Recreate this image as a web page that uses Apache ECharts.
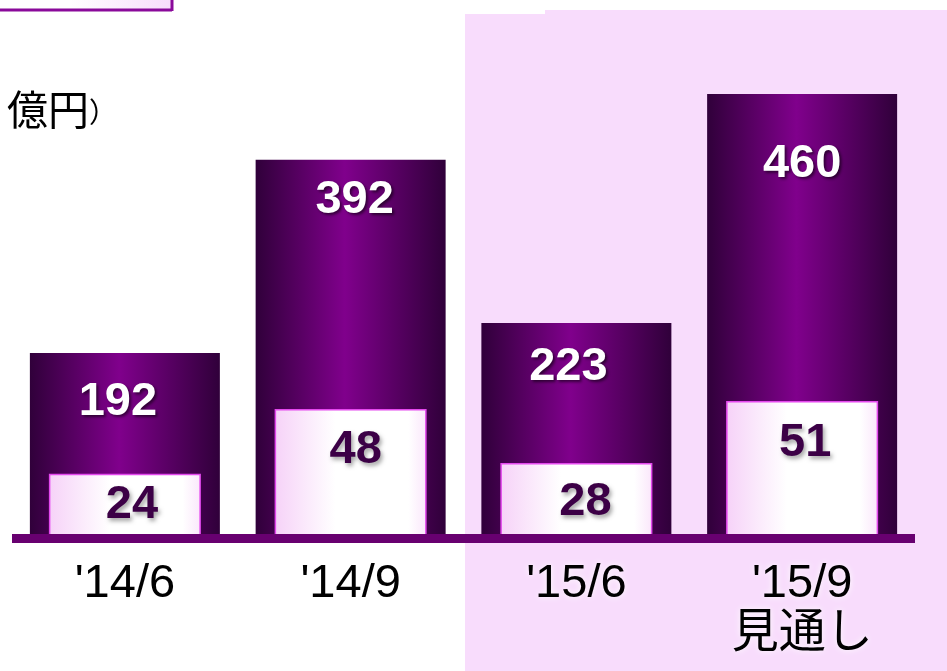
<!DOCTYPE html>
<html>
<head>
<meta charset="utf-8">
<script src="https://cdn.jsdelivr.net/npm/echarts@6/dist/echarts.min.js"></script>
<style>
  html, body { margin: 0; padding: 0; background: #fff; }
  #chart { width: 947px; height: 671px; }
</style>
</head>
<body>
<div id="chart"></div>
<script>
// 数値は画像から読み取り
const categories = ["'14/6", "'14/9", "'15/6", "'15/9\n見通し"]
const totalValues = [192, 392, 223, 460]
const innerValues = [24, 48, 28, 51]

const numFont = '"Liberation Sans", Arial, sans-serif'
const jpFont = '"Liberation Sans", "Noto Sans CJK JP", sans-serif'

// ラベルの微調整（元資料は手置きなので位置がばらばら）
const outerLabelShift = [[-7, 26], [4, 17], [-8, 21], [0, 47]]
const innerLabelShift = [[7, 8], [5, 18], [9, 16], [3, 19]]

const chart = echarts.init(document.getElementById('chart'))

const outerFill = {
  type: 'linear', x: 0, y: 0, x2: 1, y2: 0,
  colorStops: [
    { offset: 0, color: '#30003a' },
    { offset: 0.47, color: '#80008c' },
    { offset: 1, color: '#30003a' }
  ]
}
const innerFill = {
  type: 'linear', x: 0, y: 0, x2: 1, y2: 0,
  colorStops: [
    { offset: 0, color: '#f6d2f8' },
    { offset: 0.4, color: '#ffffff' },
    { offset: 0.88, color: '#ffffff' },
    { offset: 1, color: '#fae6fb' }
  ]
}

function withShift(values, shifts) {
  return values.map((v, i) => ({
    value: v,
    label: { offset: [shifts[i][0], 0], distance: shifts[i][1] }
  }))
}

const option = {
  animation: false,
  grid: { left: 12, right: 32, top: 7, bottom: 132.5 },
  graphic: [
    // 右側の見通し部分の背景
    { type: 'rect', z: -10, shape: { x: 465, y: 14, width: 82, height: 660 }, style: { fill: '#f8dcfc' } },
    { type: 'rect', z: -10, shape: { x: 545, y: 10, width: 402, height: 664 }, style: { fill: '#f8dcfc' } },
    // 左上の枠の切れ端
    {
      type: 'rect', z: -10, shape: { x: 0, y: 0, width: 172, height: 10 },
      style: {
        fill: {
          type: 'linear', x: 0, y: 0, x2: 1, y2: 0,
          colorStops: [{ offset: 0, color: '#ffffff' }, { offset: 0.4, color: '#ffffff' }, { offset: 1, color: '#f8dcfc' }]
        }
      }
    },
    { type: 'line', z: -9, shape: { x1: 0, y1: 10, x2: 172, y2: 10 }, style: { stroke: '#8a0a9a', lineWidth: 3 } },
    { type: 'line', z: -9, shape: { x1: 172, y1: 0, x2: 172, y2: 11 }, style: { stroke: '#8a0a9a', lineWidth: 3 } },
    {
      type: 'text', left: 7, top: 89,
      style: {
        text: '{a|億円}{b|）}',
        rich: {
          a: { fontSize: 41, fontFamily: '"Noto Sans CJK JP", sans-serif', fill: '#000' },
          b: { fontSize: 28, fontFamily: '"Noto Sans CJK JP", sans-serif', fill: '#000', padding: [6, 0, 0, 0] }
        }
      }
    }
  ],
  xAxis: [
    {
      type: 'category',
      data: categories,
      z: 5,
      axisLine: { lineStyle: { color: '#680070', width: 9, cap: 'butt' } },
      axisTick: { show: false },
      axisLabel: {
        margin: 21,
        color: '#000',
        fontSize: 47,
        lineHeight: 50,
        fontFamily: jpFont,
        textShadowColor: '#ffffff',
        textShadowBlur: 6
      }
    },
    { type: 'category', data: categories, show: false }
  ],
  yAxis: [
    { type: 'value', min: 0, max: 550, show: false },
    { type: 'value', min: 0, max: 197, show: false }
  ],
  series: [
    {
      name: 'total',
      type: 'bar',
      xAxisIndex: 0,
      yAxisIndex: 0,
      barWidth: 190,
      data: withShift(totalValues, outerLabelShift),
      itemStyle: { color: outerFill },
      label: {
        show: true,
        position: 'insideTop',
        color: '#ffffff',
        fontSize: 47,
        fontWeight: 'bold',
        fontFamily: numFont,
        textShadowColor: 'rgba(0,0,0,0.55)',
        textShadowBlur: 3,
        textShadowOffsetX: 2,
        textShadowOffsetY: 2
      }
    },
    {
      name: 'inner',
      type: 'bar',
      xAxisIndex: 1,
      yAxisIndex: 1,
      barWidth: 152,
      data: withShift(innerValues, innerLabelShift),
      itemStyle: { color: innerFill, borderColor: '#e448ee', borderWidth: 1.5 },
      label: {
        show: true,
        position: 'insideTop',
        color: '#3c0046',
        fontSize: 47,
        fontWeight: 'bold',
        fontFamily: numFont,
        textShadowColor: 'rgba(0,0,0,0.35)',
        textShadowBlur: 4,
        textShadowOffsetX: 2,
        textShadowOffsetY: 3
      }
    }
  ]
}

chart.setOption(option)
</script>
</body>
</html>
